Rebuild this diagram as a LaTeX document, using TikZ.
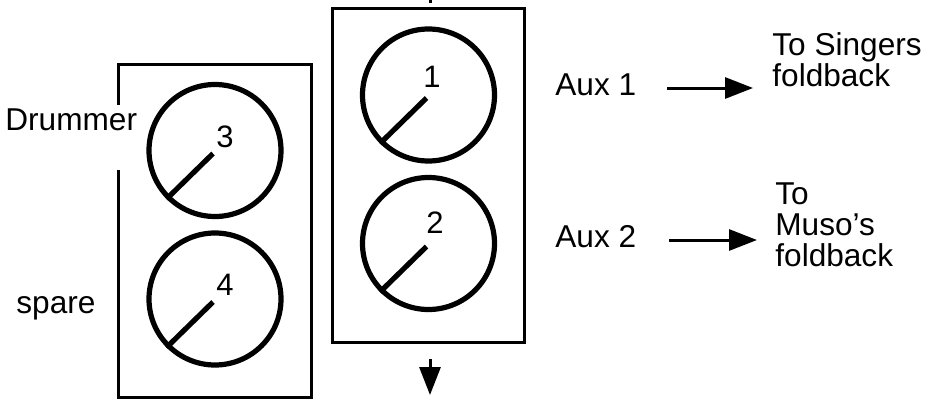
\documentclass[tikz,border=0pt]{standalone}
\usepackage{fontspec}
\setmainfont{Liberation Sans}
\usetikzlibrary{positioning,arrows.meta}

\begin{document}
\begin{tikzpicture}[x=0.5pt,y=-0.5pt,
    panel/.style={line width=1.5pt},
    knob/.style={circle,draw,line width=2.6pt,minimum size=66pt,inner sep=0pt},
    pointer/.style={line width=2.6pt},
    num/.style={font=\fontsize{15.5}{16}\selectfont,inner sep=0pt},
    lbl/.style={font=\fontsize{15.8}{15.5}\selectfont,inner sep=0pt,align=left},
    feed/.style={line width=1.5pt,-{Triangle[length=14pt,width=10.5pt]}}
]
\useasboundingbox (0,0) rectangle (931,402);

% the two panels
\draw[panel] (118,105) -- (118,64) -- (311,64) -- (311,397) -- (118,397) -- (118,170);
\draw[panel] (332,8) rectangle (524,342);
\draw[panel] (430,0) -- (430,3);

% knobs
\node[knob] (k1) at (428.5,95) {};
\node[knob] (k2) at (428.5,243.5) {};
\node[knob] (k3) at (215,150.5) {};
\node[knob] (k4) at (215,299) {};

\draw[pointer] ([shift={(-2,3)}]k1.center) -- (k1.225);
\draw[pointer] ([shift={(-2,3)}]k2.center) -- (k2.225);
\draw[pointer] ([shift={(-2,3)}]k3.center) -- (k3.225);
\draw[pointer] ([shift={(-2,3)}]k4.center) -- (k4.225);

\node[num] (n1) at (432,77) {1};
\node[num] (n2) at (435,222.5) {2};
\node[num] (n3) at (225,137) {3};
\node[num] (n4) at (225,285) {4};

% labels
\node[lbl,anchor=base west] (drum) at (5,130) {Drummer};
\node[lbl,anchor=base west] (spare) at (16,313) {spare};
\node[lbl,anchor=base west] (aux1) at (555,95) {Aux 1};
\node[lbl,anchor=base west] (aux2) at (555,247) {Aux 2};
\node[lbl,anchor=north west] (sing) at (772,32) {To Singers\\foldback};
\node[lbl,anchor=north west] (muso) at (775,182) {To\\Muso’s\\foldback};

% sends
\coordinate (s1) at (667,88);
\coordinate (e1) at (753,88);
\coordinate (s2) at (669,240);
\coordinate (e2) at (757,240);
\coordinate (s3) at (430,359);
\coordinate (e3) at (430,395);
\draw[feed] (s1) -- (e1);
\draw[feed] (s2) -- (e2);
\draw[feed] (s3) -- (e3);

\end{tikzpicture}
\end{document}
